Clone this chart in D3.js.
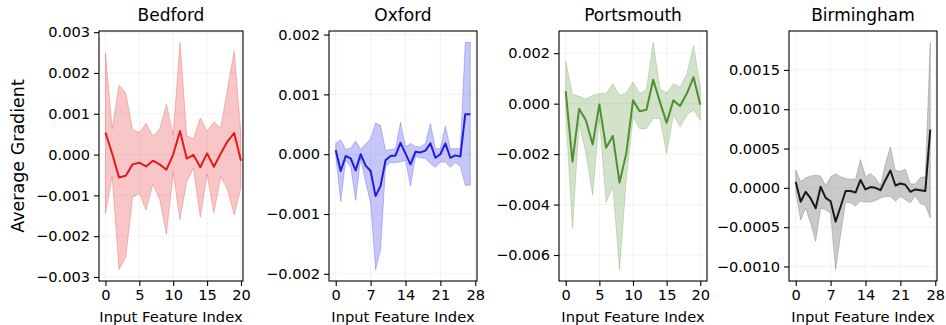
<!DOCTYPE html>
<html>
<head>
<meta charset="utf-8">
<script src="https://cdn.jsdelivr.net/npm/d3@7"></script>
<style>
  body { margin: 0; background: #fff; }
  svg { display: block; font-family: "DejaVu Sans", sans-serif; }
</style>
</head>
<body>
<svg id="chart"></svg>
<script>
const cities = ["Bedford", "Oxford", "Portsmouth", "Birmingham"];

// mean gradient and band (upper / lower) per input feature
const bedfordMean  = [0.00054, 0.00002, -0.00056, -0.00052, -0.00024, -0.0002, -0.00029, -0.00015, -0.00024, -0.00037, 0.0, 0.00058, -0.0001, -0.00001, -0.00031, 0.00003, -0.0003, 0.00002, 0.00032, 0.00053, -0.00015];
const bedfordUpper = [0.00249, 0.00063, 0.0017, 0.00151, 0.00062, 0.00054, 0.00076, 0.00045, 0.00062, 0.00123, 0.00048, 0.00275, 0.00046, 0.00039, 0.0009, 0.00058, 0.0008, 0.00065, 0.0016, 0.00254, 0.0005];
const bedfordLower = [-0.00144, -0.00054, -0.00282, -0.00251, -0.00105, -0.00095, -0.00136, -0.00072, -0.0011, -0.00195, -0.00044, -0.0016, -0.00066, -0.00034, -0.00154, -0.00048, -0.00143, -0.00054, -0.00085, -0.00148, -0.0008];

const oxfordMean  = [0.00007, -0.00028, -0.00003, -0.00007, -0.00027, 0.0, -0.00019, -0.00028, -0.0007, -0.00053, -0.0001, -0.00003, -0.00002, 0.00019, 0.00001, -0.00017, 0.00004, 0.00003, 0.00006, 0.00018, -0.00006, 0.0, 0.00018, -0.00006, -0.00002, -0.00004, 0.00067, 0.00067];
const oxfordUpper = [0.00018, 0.00024, 0.00008, 0.0001, 0.00022, 0.00008, 0.00017, 0.00026, 0.00052, 0.00048, 0.00006, 0.00008, 0.00009, 0.00053, 0.00012, 0.00018, 0.00013, 0.00012, 0.00018, 0.00051, 0.00009, 0.00009, 0.00047, 0.00009, 0.00009, 0.0001, 0.00187, 0.00187];
const oxfordLower = [-0.00001, -0.00079, -0.0001, -0.00021, -0.00077, -0.00007, -0.00046, -0.00081, -0.00193, -0.00159, -0.00021, -0.00014, -0.00014, -0.00013, -0.0001, -0.00053, -0.00004, -0.00006, -0.00007, -0.00016, -0.00022, -0.00013, -0.00013, -0.00022, -0.00014, -0.0002, -0.00052, -0.00052];

const portsmouthMean  = [0.0005, -0.0023, -0.0002, -0.00066, -0.00162, -0.00003, -0.00175, -0.00128, -0.00313, -0.00197, 0.00013, -0.0003, -0.00024, 0.00095, 0.00007, -0.00076, 0.00013, -0.00009, 0.0004, 0.00105, -0.00004];
const portsmouthUpper = [0.00167, 0.00037, 0.00029, 0.00018, 0.00033, 0.0004, 0.0004, 0.00079, 0.00032, 0.00042, 0.00086, 0.0004, 0.00055, 0.00243, 0.00059, 0.00042, 0.00079, 0.00066, 0.00118, 0.0023, 0.0007];
const portsmouthLower = [-0.0004, -0.00493, -0.00079, -0.00197, -0.00362, -0.00059, -0.00392, -0.00329, -0.00658, -0.00303, -0.00053, -0.00099, -0.00099, -0.00059, -0.00059, -0.00197, -0.00046, -0.00092, -0.00046, -0.00024, -0.00066];

const birminghamMean  = [0.000076, -0.000177, -0.00005, -0.000135, -0.00026, 0.000013, -0.000127, -0.00017, -0.00043, -0.00024, -0.00004, -0.00004, -0.00006, 0.0001, -0.00002, 0.00001, 0.0, -0.00003, 0.0001, 0.00022, 0.00003, 0.000055, 0.00004, -0.00005, -0.00002, -0.00003, -0.00004, 0.00074];
const birminghamUpper = [0.00023, 0.000076, 0.00013, 0.00015, 0.00016, 0.00015, 0.00003, 0.00014, 0.00018, 0.00014, 0.00012, 0.00011, 0.00011, 0.00036, 0.00014, 0.00018, 0.00013, 0.00003, 0.00031, 0.00052, 0.00022, 0.00021, 0.00024, 0.00005, 0.00005, 0.00013, 0.00014, 0.00185];
const birminghamLower = [-0.00005, -0.00041, -0.00026, -0.00045, -0.00068, -0.00026, -0.00028, -0.00032, -0.00104, -0.0006, -0.00018, -0.00019, -0.00023, -0.00017, -0.00018, -0.00018, -0.00016, -0.00013, -0.00011, -0.00011, -0.00017, -0.00011, -0.00015, -0.00019, -0.0001, -0.0002, -0.00022, -0.00038];

// tick labels
const xTicksShort = [0, 5, 10, 15, 20];
const xTicksLong = [0, 7, 14, 21, 28];
const bedfordYTicks = [-0.003, -0.002, -0.001, 0, 0.001, 0.002, 0.003];
const oxfordYTicks = [-0.002, -0.001, 0, 0.001, 0.002];
const portsmouthYTicks = [-0.006, -0.004, -0.002, 0, 0.002];
const birminghamYTicks = [-0.001, -0.0005, 0, 0.0005, 0.001, 0.0015];

const panels = [
  { title: cities[0], mean: bedfordMean, upper: bedfordUpper, lower: bedfordLower,
    xTicks: xTicksShort, yTicks: bedfordYTicks, fmt: ".3f",
    left: 99, right: 243, xDom: [-0.95, 20.3], line: "#e31a1c", fill: "#e31a1c", alpha: 0.25 },
  { title: cities[1], mean: oxfordMean, upper: oxfordUpper, lower: oxfordLower,
    xTicks: xTicksLong, yTicks: oxfordYTicks, fmt: ".3f",
    left: 329, right: 477, xDom: [-1.35, 28.35], line: "#1c1ce6", fill: "#1c1ce6", alpha: 0.25 },
  { title: cities[2], mean: portsmouthMean, upper: portsmouthUpper, lower: portsmouthLower,
    xTicks: xTicksShort, yTicks: portsmouthYTicks, fmt: ".3f",
    left: 559, right: 707, xDom: [-1, 21], line: "#4f8f2f", fill: "#4f8f2f", alpha: 0.25 },
  { title: cities[3], mean: birminghamMean, upper: birminghamUpper, lower: birminghamLower,
    xTicks: xTicksLong, yTicks: birminghamYTicks, fmt: ".4f",
    left: 789, right: 937, xDom: [-1.35, 28.35], line: "#1a1a1a", fill: "#808080", alpha: 0.42 },
];

const width = 946, height = 325;
const plotTop = 31, plotBottom = 281;

const svg = d3.select("#chart")
  .attr("width", width)
  .attr("height", height);

panels.forEach((p, pi) => {
  const rows = p.mean.map((m, i) => ({ i, m, hi: p.upper[i], lo: p.lower[i] }));

  const lo = d3.min(rows, d => d.lo), hi = d3.max(rows, d => d.hi);
  const pad = (hi - lo) * 0.05;

  const x = d3.scaleLinear().domain(p.xDom).range([p.left, p.right]);
  const y = d3.scaleLinear().domain([lo - pad, hi + pad]).range([plotBottom, plotTop]);

  const g = svg.append("g");

  // faint grid
  g.append("g").selectAll("line").data(p.xTicks.filter(t => x(t) < p.right)).join("line")
    .attr("x1", d => x(d)).attr("x2", d => x(d))
    .attr("y1", plotTop).attr("y2", plotBottom)
    .attr("stroke", "#f0f0f0").attr("stroke-width", 0.8);
  g.append("g").selectAll("line").data(p.yTicks).join("line")
    .attr("x1", p.left).attr("x2", p.right)
    .attr("y1", d => y(d)).attr("y2", d => y(d))
    .attr("stroke", "#f0f0f0").attr("stroke-width", 0.8);

  const area = d3.area().x(d => x(d.i)).y0(d => y(d.lo)).y1(d => y(d.hi));
  g.append("path")
    .datum(rows)
    .attr("d", area)
    .attr("fill", p.fill)
    .attr("fill-opacity", p.alpha)
    .attr("stroke", p.fill)
    .attr("stroke-opacity", p.alpha)
    .attr("stroke-width", 1);

  const line = d3.line().x(d => x(d.i)).y(d => y(d.m));
  g.append("path")
    .datum(rows)
    .attr("d", line)
    .attr("fill", "none")
    .attr("stroke", p.line)
    .attr("stroke-width", 2)
    .attr("stroke-linejoin", "round");

  // axes
  const xAxis = g.append("g")
    .attr("transform", `translate(0,${plotBottom})`)
    .call(d3.axisBottom(x).tickValues(p.xTicks).tickSize(5).tickPadding(4));
  const yAxis = g.append("g")
    .attr("transform", `translate(${p.left},0)`)
    .call(d3.axisLeft(y).tickValues(p.yTicks).tickFormat(d3.format(p.fmt)).tickSize(5).tickPadding(4));

  [xAxis, yAxis].forEach(a => {
    a.attr("font-family", null).attr("font-size", null);
    a.select(".domain").remove();
    a.selectAll(".tick line").attr("stroke", "#000").attr("stroke-width", 1.1);
    a.selectAll(".tick text")
      .attr("fill", "#000")
      .style("font-family", "'DejaVu Sans'")
      .style("font-size", "14.6px");
  });

  g.append("rect")
    .attr("x", p.left).attr("y", plotTop)
    .attr("width", p.right - p.left).attr("height", plotBottom - plotTop)
    .attr("fill", "none").attr("stroke", "#000").attr("stroke-width", 1.1);

  g.append("text")
    .attr("x", (p.left + p.right) / 2)
    .attr("y", 20.5)
    .attr("text-anchor", "middle")
    .style("font-size", "17px")
    .text(p.title);

  g.append("text")
    .attr("x", (p.left + p.right) / 2)
    .attr("y", 321.5)
    .attr("text-anchor", "middle")
    .style("font-size", "14.7px")
    .text("Input Feature Index");

  if (pi === 0) {
    g.append("text")
      .attr("transform", `translate(24,${(plotTop + plotBottom) / 2}) rotate(-90)`)
      .attr("text-anchor", "middle")
      .style("font-size", "17.5px")
      .text("Average Gradient");
  }
});
</script>
</body>
</html>
